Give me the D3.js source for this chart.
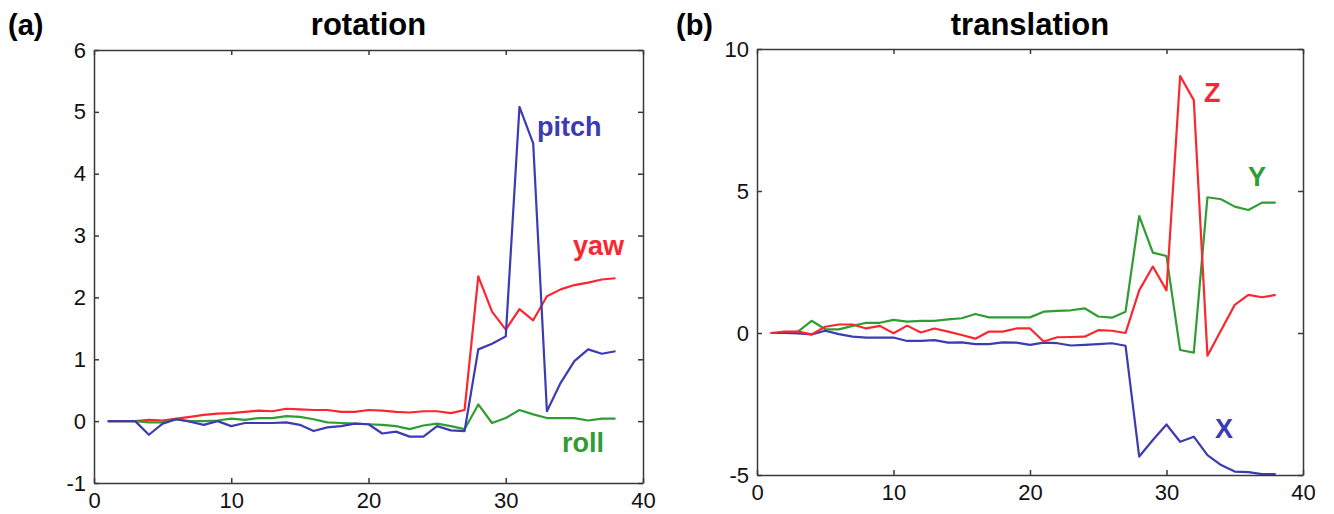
<!DOCTYPE html>
<html>
<head>
<meta charset="utf-8">
<script src="https://cdn.jsdelivr.net/npm/d3@7"></script>
<style>
  body { margin: 0; background: #fff; }
  svg { display: block; font-family: "Liberation Sans", Arial, sans-serif; }
  .tick text { font-size: 22px; fill: #111; }
  .domain, .tick line { stroke: #3a3a3a; stroke-width: 1.5; }
  .series { fill: none; stroke-width: 2.2; stroke-linejoin: round; }
</style>
</head>
<body>
<div id="vis"></div>
<script>
const W = 1334, H = 514;

// time steps (x axis)
const steps = [1,2,3,4,5,6,7,8,9,10,11,12,13,14,15,16,17,18,19,20,
               21,22,23,24,25,26,27,28,29,30,31,32,33,34,35,36,37,38];

// (a) rotation
const pitch = [0,0,0,-0.22,-0.04,0.03,-0.01,-0.06,0,-0.08,-0.03,-0.03,-0.03,-0.02,-0.06,-0.16,-0.1,-0.08,-0.04,-0.05,
               -0.2,-0.17,-0.25,-0.25,-0.08,-0.15,-0.16,1.16,1.25,1.37,5.08,4.49,0.16,0.62,0.97,1.16,1.09,1.13];
const yaw   = [0,0,0,0.02,0.01,0.04,0.07,0.1,0.12,0.13,0.15,0.17,0.16,0.2,0.19,0.18,0.18,0.15,0.15,0.18,
               0.17,0.15,0.14,0.16,0.16,0.13,0.18,2.34,1.77,1.48,1.81,1.63,2.02,2.13,2.2,2.24,2.29,2.31];
const roll  = [0,0,0,-0.02,-0.02,0.03,0,0,0.01,0.04,0.02,0.05,0.05,0.08,0.07,0.03,-0.02,-0.03,-0.04,-0.05,
               -0.06,-0.08,-0.13,-0.07,-0.04,-0.08,-0.13,0.27,-0.03,0.05,0.18,0.11,0.05,0.05,0.05,0.01,0.04,0.04];

// (b) translation
const transX = [0,0,-0.01,-0.05,0.08,-0.04,-0.13,-0.16,-0.16,-0.16,-0.28,-0.28,-0.25,-0.34,-0.33,-0.39,-0.39,-0.33,-0.34,-0.42,
                -0.34,-0.36,-0.44,-0.42,-0.39,-0.36,-0.45,-4.35,-3.77,-3.22,-3.83,-3.65,-4.3,-4.65,-4.88,-4.9,-4.97,-4.97];
const transY = [0,0,0.05,0.43,0.13,0.13,0.25,0.36,0.36,0.46,0.4,0.43,0.43,0.48,0.52,0.67,0.55,0.55,0.55,0.55,
                0.75,0.78,0.8,0.87,0.58,0.54,0.75,4.12,2.83,2.71,-0.6,-0.69,4.78,4.71,4.45,4.33,4.59,4.59];
const transZ = [0,0.05,0.05,-0.05,0.22,0.3,0.3,0.16,0.25,-0.01,0.26,0.02,0.16,0.05,-0.07,-0.2,0.05,0.05,0.16,0.16,
                -0.3,-0.15,-0.14,-0.13,0.1,0.08,0,1.5,2.34,1.5,9.05,8.2,-0.8,0.1,0.99,1.34,1.26,1.34];

const xTicks = [0, 10, 20, 30, 40];
const rotTicks = [-1, 0, 1, 2, 3, 4, 5, 6];
const transTicks = [-5, 0, 5, 10];

const blue = "#3b3bb3", red = "#fb2730", green = "#2f9d32";

const panels = [
  {
    tag: "(a)", title: "rotation", tagX: 8,
    box: {left: 94, right: 643, top: 50, bottom: 483},
    yDomain: [-1, 6], yTicks: rotTicks,
    series: [
      {name: "yaw", values: yaw, color: red, lx: 573, ly: 255},
      {name: "roll", values: roll, color: green, lx: 562, ly: 452},
      {name: "pitch", values: pitch, color: blue, lx: 537, ly: 136}
    ]
  },
  {
    tag: "(b)", title: "translation", tagX: 676,
    box: {left: 757, right: 1303, top: 49, bottom: 475},
    yDomain: [-5, 10], yTicks: transTicks,
    series: [
      {name: "Y", values: transY, color: green, lx: 1248, ly: 186},
      {name: "X", values: transX, color: blue, lx: 1215, ly: 438},
      {name: "Z", values: transZ, color: red, lx: 1204, ly: 102}
    ]
  }
];

const svg = d3.select("#vis").append("svg")
    .attr("width", W)
    .attr("height", H);

panels.forEach(p => {
    const b = p.box;
    const x = d3.scaleLinear().domain([0, 40]).range([b.left, b.right]);
    const y = d3.scaleLinear().domain(p.yDomain).range([b.bottom, b.top]);
    const g = svg.append("g");

    // lines first, frame on top
    const line = d3.line()
        .x((d, i) => x(steps[i]))
        .y(d => y(d));

    p.series.forEach(s => {
        g.append("path")
            .attr("class", "series")
            .attr("stroke", s.color)
            .attr("d", line(s.values));

        g.append("text")
            .attr("x", s.lx)
            .attr("y", s.ly)
            .attr("fill", s.color)
            .attr("font-size", 27)
            .attr("font-weight", "bold")
            .text(s.name);
    });

    // MATLAB style box with inward ticks, plain hyphen minus in labels
    const fmt = d => String(d);
    g.append("g")
        .attr("transform", `translate(0,${b.bottom})`)
        .call(d3.axisBottom(x).tickValues(xTicks).tickFormat(fmt).tickSizeInner(-5).tickSizeOuter(0).tickPadding(9));
    g.append("g")
        .attr("transform", `translate(0,${b.top})`)
        .call(d3.axisTop(x).tickValues(xTicks).tickSizeInner(-5).tickSizeOuter(0).tickFormat(""));
    g.append("g")
        .attr("transform", `translate(${b.left},0)`)
        .call(d3.axisLeft(y).tickValues(p.yTicks).tickFormat(fmt).tickSizeInner(-5).tickSizeOuter(0).tickPadding(8));
    g.append("g")
        .attr("transform", `translate(${b.right},0)`)
        .call(d3.axisRight(y).tickValues(p.yTicks).tickSizeInner(-5).tickSizeOuter(0).tickFormat(""));

    g.selectAll(".tick text").attr("font-family", null).attr("font-size", null);

    g.append("text")
        .attr("x", p.tagX)
        .attr("y", 35)
        .attr("font-size", 29)
        .attr("font-weight", "bold")
        .text(p.tag);

    g.append("text")
        .attr("x", (b.left + b.right) / 2)
        .attr("y", 35)
        .attr("text-anchor", "middle")
        .attr("font-size", 31)
        .attr("font-weight", "bold")
        .text(p.title);
});
</script>
</body>
</html>
